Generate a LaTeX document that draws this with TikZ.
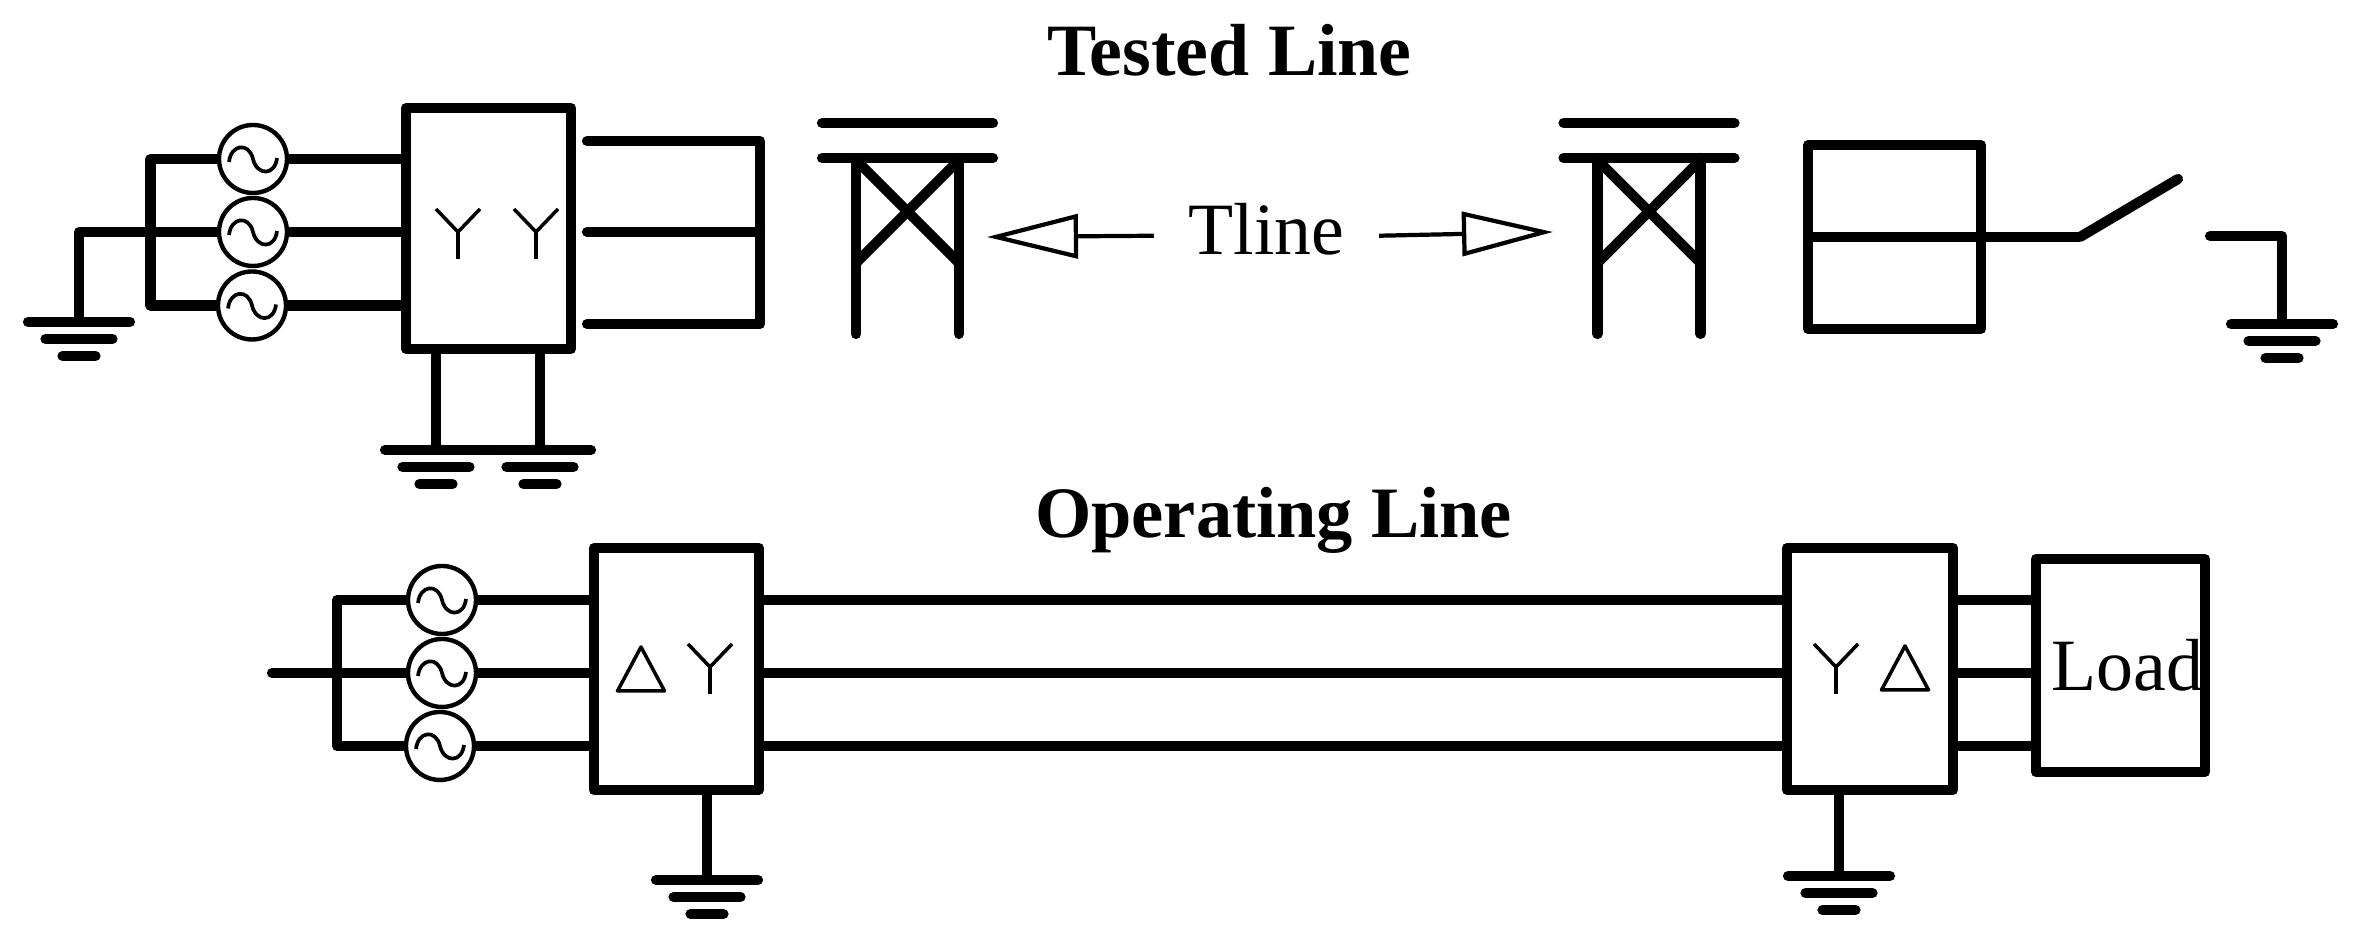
\documentclass[tikz,border=0pt]{standalone}
\usepackage{fontspec}
\setmainfont{Liberation Serif}
\usetikzlibrary{calc}
\usetikzlibrary{arrows.meta}
\tikzset{
  wire/.style={line width=2.9pt,line join=round},
  bar/.style={line width=2.9pt,line join=round,line cap=round},
  thin sym/.style={line width=1pt,line join=round},
  box/.style={rectangle,draw,line width=2.9pt,outer sep=0pt,line join=round},
  txt/.style={font=\fontsize{21}{24}\selectfont,inner sep=0pt},
  head/.style={font=\fontsize{21}{24}\selectfont\bfseries,inner sep=0pt},
  hollow/.style={line width=1.2pt,-{Triangle[open,length=0.91cm,width=0.44cm]}},
  src/.style={circle,draw,line width=1.25pt,minimum size=0.68cm,inner sep=0pt,outer sep=0pt,
    path picture={\draw[line width=1.05pt,shift={(path picture bounding box.center)}]
      (-0.24,-0.03) .. controls (-0.22,0.15) and (-0.04,0.17) .. (0,0)
      .. controls (0.04,-0.17) and (0.22,-0.17) .. (0.24,0.01);}},
  ground/.pic={
    \draw[bar] (-0.51,0) -- (0.51,0);
    \draw[bar] (-0.335,-0.17) -- (0.335,-0.17);
    \draw[bar] (-0.165,-0.34) -- (0.165,-0.34);
  },
  tower/.pic={
    \draw[bar] (-0.855,0.35) -- (0.855,0.35);
    \draw[bar] (-0.855,0) -- (0.855,0);
    \draw[bar] (-0.515,0) -- (-0.515,-1.76);
    \draw[bar] (0.515,0) -- (0.515,-1.76);
    \draw[wire] (-0.515,-0.02) -- (0.515,-1.05);
    \draw[wire] (0.515,-0.02) -- (-0.515,-1.05);
  },
  wye/.pic={
    \draw[thin sym] (-0.22,0.23) -- (0,0) -- (0.22,0.23);
    \draw[thin sym] (0,0) -- (0,-0.27);
  },
  delta/.pic={
    \draw[thin sym] (-0.235,0) -- (0,0.44) -- (0.235,0) -- cycle;
  }
}

\begin{document}
\begin{tikzpicture}
 \useasboundingbox (0,0) rectangle (23.61,9.39);

 \node[head,anchor=base] (testedtitle) at (12.295,8.63) {Tested Line};
 \node[head,anchor=base,font=\fontsize{20.6}{24}\selectfont\bfseries] (operatingtitle) at (12.735,4.01) {Operating Line};

 % tested line
 \node[box,minimum width=1.65cm,minimum height=2.41cm] (testedtrans) at (4.885,7.105) {};
 \node[src] (srca) at (2.53,7.80) {};
 \node[src] (srcb) at (2.53,7.07) {};
 \node[src] (srcc) at (2.52,6.335) {};
 \coordinate (busa) at (1.505,7.80);
 \coordinate (busc) at (1.505,6.335);
 \coordinate (gnda) at (0.79,6.17);
 \coordinate (gndb) at (4.36,4.89);
 \coordinate (gndc) at (5.40,4.89);
 \draw[wire] (srca.west) -- (busa) -- (busc) -- (srcc.west);
 \draw[wire] (srcb.west) -| (gnda);
 \draw[wire] (srca.east) -- (srca.east -| testedtrans.west);
 \draw[wire] (srcb.east) -- (srcb.east -| testedtrans.west);
 \draw[wire] (srcc.east) -- (srcc.east -| testedtrans.west);
 \draw[wire] (gndb |- testedtrans.south) -- (gndb);
 \draw[wire] (gndc |- testedtrans.south) -- (gndc);
 \pic at (gnda) {ground};
 \pic at (gndb) {ground};
 \pic at (gndc) {ground};
 \pic at (4.58,7.07) {wye};
 \pic at (5.36,7.07) {wye};

 \coordinate (shorta) at (5.87,7.98);
 \coordinate (shortb) at (5.87,7.07);
 \coordinate (shortc) at (5.87,6.15);
 \coordinate (shortd) at (7.60,7.98);
 \coordinate (shorte) at (7.60,6.15);
 \draw[bar] (shorta) -- (shortd) -- (shorte) -- (shortc);
 \draw[bar] (shortb) -- (shortb -| shortd);

 \pic at (9.075,7.81) {tower};
 \pic at (16.49,7.81) {tower};
 \node[txt,anchor=base,inner xsep=0.34cm] (tline) at (12.665,6.84) {Tline};
 \coordinate (tipa) at (9.87,7.02);
 \coordinate (tipb) at (15.53,7.07);
 \draw[hollow] ([yshift=-0.06cm]tline.west) -- (tipa);
 \draw[hollow] ([yshift=-0.06cm]tline.east) -- (tipb);

 \node[box,minimum width=1.73cm,minimum height=1.84cm] (breaker) at (18.945,7.02) {};
 \coordinate (pivot) at (20.80,7.02);
 \coordinate (blade) at (21.78,7.60);
 \draw[wire] (breaker.west) -- (pivot);
 \draw[bar] (pivot) -- (blade);
 \coordinate (stub) at (22.10,7.03);
 \coordinate (gndf) at (22.82,6.15);
 \draw[bar] (stub) -| (gndf);
 \pic at (gndf) {ground};

 % operating line
 \node[box,minimum width=1.65cm,minimum height=2.42cm] (sourcetrans) at (6.765,2.70) {};
 \node[box,minimum width=1.66cm,minimum height=2.42cm] (loadtrans) at (18.70,2.70) {};
 \node[box,txt,minimum width=1.69cm,minimum height=2.13cm] (load) at (21.205,2.735) {\hspace{0.14cm}Load};
 \node[src] (srcd) at (4.42,3.39) {};
 \node[src] (srce) at (4.42,2.66) {};
 \node[src] (srcf) at (4.40,1.93) {};
 \coordinate (busd) at (3.37,3.39);
 \coordinate (busf) at (3.37,1.93);
 \coordinate (inlet) at (2.72,2.66);
 \coordinate (gndd) at (7.07,0.59);
 \coordinate (gnde) at (18.39,0.63);
 \draw[wire] (srcd.west) -- (busd) -- (busf) -- (srcf.west);
 \draw[bar] (inlet) -- ++(0.6,0);
 \draw[wire] (inlet) ++(0.6,0) -- (srce.west);
 \draw[wire] (srcd.east) -- (srcd.east -| sourcetrans.west);
 \draw[wire] (srce.east) -- (srce.east -| sourcetrans.west);
 \draw[wire] (srcf.east) -- (srcf.east -| sourcetrans.west);
 \draw[wire] (srcd -| sourcetrans.east) -- (srcd -| loadtrans.west);
 \draw[wire] (srce -| sourcetrans.east) -- (srce -| loadtrans.west);
 \draw[wire] (srcf -| sourcetrans.east) -- (srcf -| loadtrans.west);
 \draw[wire] (srcd -| loadtrans.east) -- (srcd -| load.west);
 \draw[wire] (srce -| loadtrans.east) -- (srce -| load.west);
 \draw[wire] (srcf -| loadtrans.east) -- (srcf -| load.west);
 \draw[wire] (gndd |- sourcetrans.south) -- (gndd);
 \draw[wire] (gnde |- loadtrans.south) -- (gnde);
 \pic at (gndd) {ground};
 \pic at (gnde) {ground};
 \pic at (6.41,2.48) {delta};
 \pic at (7.10,2.72) {wye};
 \pic at (18.36,2.72) {wye};
 \pic at (19.05,2.49) {delta};

\end{tikzpicture}
\end{document}
